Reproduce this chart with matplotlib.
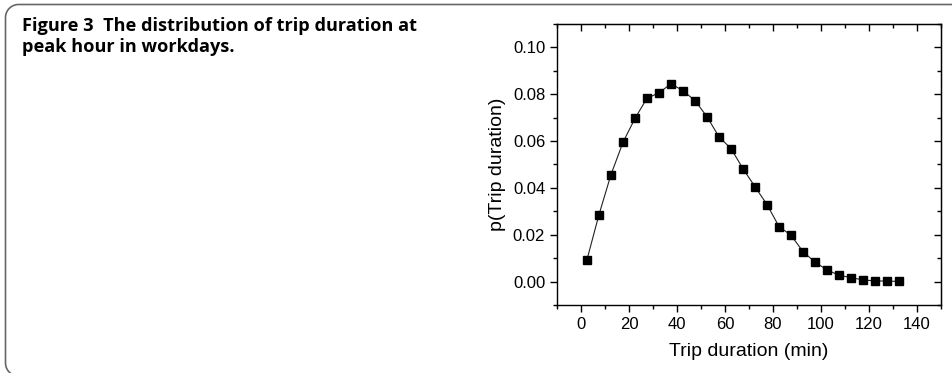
import numpy as np
import matplotlib
matplotlib.use("Agg")
from matplotlib import pyplot as plt
from matplotlib.lines import Line2D
from matplotlib.ticker import MultipleLocator, FormatStrFormatter

# trip duration bins (min) and probability
duration = [2.5, 7.5, 12.5, 17.5, 22.5, 27.5, 32.5, 37.5, 42.5, 47.5,
            52.5, 57.5, 62.5, 67.5, 72.5, 77.5, 82.5, 87.5, 92.5, 97.5,
            102.5, 107.5, 112.5, 117.5, 122.5, 127.5, 132.5]
prob = [0.0094, 0.0286, 0.0457, 0.0595, 0.0697, 0.0783, 0.0806, 0.0845, 0.0815, 0.0773,
        0.0704, 0.0618, 0.0568, 0.0482, 0.0405, 0.0329, 0.0235, 0.0198, 0.0128, 0.0083,
        0.0050, 0.0027, 0.0017, 0.0007, 0.0003, 0.0002, 0.0001]

caption = "Figure 3  The distribution of trip duration at\npeak hour in workdays."

W, H = 953, 373
fig = plt.figure(figsize=(W / 100, H / 100), dpi=100)

# open rounded frame on the left (top line runs to the right edge), pixels
x0, top, bot, r = 5.5, H - 4.5, -3, 13
t = np.linspace(0, np.pi / 2, 12)
fx = np.concatenate([[W], x0 + r - r * np.sin(t), x0 + r - r * np.cos(t)])
fy = np.concatenate([[top], top - r + r * np.cos(t), bot + r - r * np.sin(t)])
fig.add_artist(Line2D(fx / W, fy / H, transform=fig.transFigure,
                      color="#666666", linewidth=1.2))

fig.text(22 / W, 1 - 17 / H, caption, fontsize=13.1, fontweight="bold",
         family=["Open Sans", "DejaVu Sans"], va="top", ha="left",
         linespacing=1.22)

ax = fig.add_axes([557 / W, 1 - 305 / H, (941 - 557) / W, (305 - 24) / H])
ax.plot(duration, prob, color="#222222", linewidth=0.8, marker="s",
        markersize=5.5, markerfacecolor="black", markeredgecolor="black")

ax.set_xlim(-10, 150)
ax.set_ylim(-0.01, 0.11)
ax.xaxis.set_major_locator(MultipleLocator(20))
ax.xaxis.set_minor_locator(MultipleLocator(10))
ax.yaxis.set_major_locator(MultipleLocator(0.02))
ax.yaxis.set_minor_locator(MultipleLocator(0.01))
ax.yaxis.set_major_formatter(FormatStrFormatter("%.2f"))

for s in ax.spines.values():
    s.set_linewidth(1.0)

ax.tick_params(which="both", direction="out", width=1.0, labelsize=12,
               top=False, right=False)
ax.tick_params(which="major", length=5)
ax.tick_params(which="minor", length=3)
for lbl in ax.get_xticklabels() + ax.get_yticklabels():
    lbl.set_family("Liberation Sans")

# mirrored inward ticks on top and right
ax2 = ax.secondary_xaxis("top")
ax2.xaxis.set_major_locator(MultipleLocator(20))
ax2.xaxis.set_minor_locator(MultipleLocator(10))
ax2.tick_params(which="both", direction="in", width=1.0, labeltop=False)
ax2.tick_params(which="major", length=5)
ax2.tick_params(which="minor", length=3)
ay2 = ax.secondary_yaxis("right")
ay2.yaxis.set_major_locator(MultipleLocator(0.02))
ay2.yaxis.set_minor_locator(MultipleLocator(0.01))
ay2.tick_params(which="both", direction="in", width=1.0, labelright=False)
ay2.tick_params(which="major", length=5)
ay2.tick_params(which="minor", length=3)

ax.set_xlabel("Trip duration (min)", fontsize=14, family="Liberation Sans", labelpad=8)
ax.set_ylabel("p(Trip duration)", fontsize=14, family="Liberation Sans", labelpad=5)

fig.savefig("out.png", dpi=100)
